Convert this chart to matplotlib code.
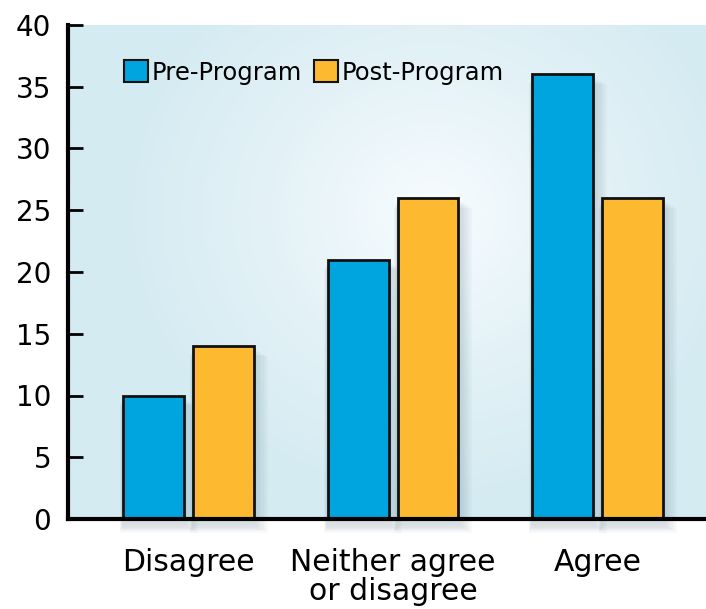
import numpy as np
import matplotlib
matplotlib.use("Agg")
import matplotlib.pyplot as plt
from matplotlib.patches import Rectangle
from matplotlib.colors import LinearSegmentedColormap

categories = ["Disagree", "Neither agree\nor disagree", "Agree"]
pre_program = [10, 21, 36]
post_program = [14, 26, 26]
yticks = [0, 5, 10, 15, 20, 25, 30, 35, 40]

plt.rcParams['font.family'] = ['DejaVu Sans']

fig = plt.figure(figsize=(7.06, 6.09), dpi=100)
ax = fig.add_axes([68/706, (609-519)/609, (706-68)/706, (519-25)/609])

x = np.arange(len(categories))
w = 0.298
off = 0.171
blue = '#00a5e0'
orange = '#fdb92f'

# radial gradient background
ny, nx = 300, 300
yy, xx = np.mgrid[0:1:ny*1j, 0:1:nx*1j]
cx, cy = 0.57, 0.62
r = np.sqrt(((xx-cx)*1.2)**2 + ((yy-cy)*1.0)**2)
r = np.clip(r/0.6, 0, 1)
cmap = LinearSegmentedColormap.from_list('bg', ['#f7fcfe', '#e4f2f7', '#d4ebf2'])
ax.imshow(r, cmap=cmap, extent=[0, 1, 0, 1], origin='lower', transform=ax.transAxes,
          aspect='auto', zorder=0)

# soft shadows
for xs, vals in ((x-off, pre_program), (x+off, post_program)):
    for xi, v in zip(xs, vals):
        for k in range(6):
            d = 0.012 + k*0.008
            ax.add_patch(Rectangle((xi - w/2 - d*0.3, -0.6 - k*0.1), w + d*1.6, v + 0.3,
                                   facecolor='#4a6a78', alpha=0.035, edgecolor='none', zorder=1,
                                   clip_on=False))

ax.bar(x-off, pre_program, width=w, color=blue, edgecolor='#111111', linewidth=2,
       label='Pre-Program', zorder=3)
ax.bar(x+off, post_program, width=w, color=orange, edgecolor='#111111', linewidth=2,
       label='Post-Program', zorder=3)

ax.set_xlim(-0.589, 2.53)
ax.set_ylim(0, 40)
ax.set_yticks(yticks)
ax.set_xticks(x)
ax.set_xticklabels(categories, fontsize=21.5, linespacing=1.0)
ax.tick_params(axis='x', length=0, pad=21)
ax.tick_params(axis='y', direction='in', length=11, width=2, labelsize=20, pad=12)

for s in ['top', 'right']:
    ax.spines[s].set_visible(False)
for s in ['left', 'bottom']:
    ax.spines[s].set_linewidth(3)
    ax.spines[s].set_zorder(5)

leg = ax.legend(loc='upper left', bbox_to_anchor=(0.072, 0.948), ncol=2, frameon=False,
                fontsize=17.5, handlelength=1.0, handleheight=1.0, handletextpad=0.15,
                columnspacing=0.5, borderaxespad=0)
for h in leg.legend_handles:
    h.set_linewidth(1.5)

fig.savefig('out.png', dpi=100)
